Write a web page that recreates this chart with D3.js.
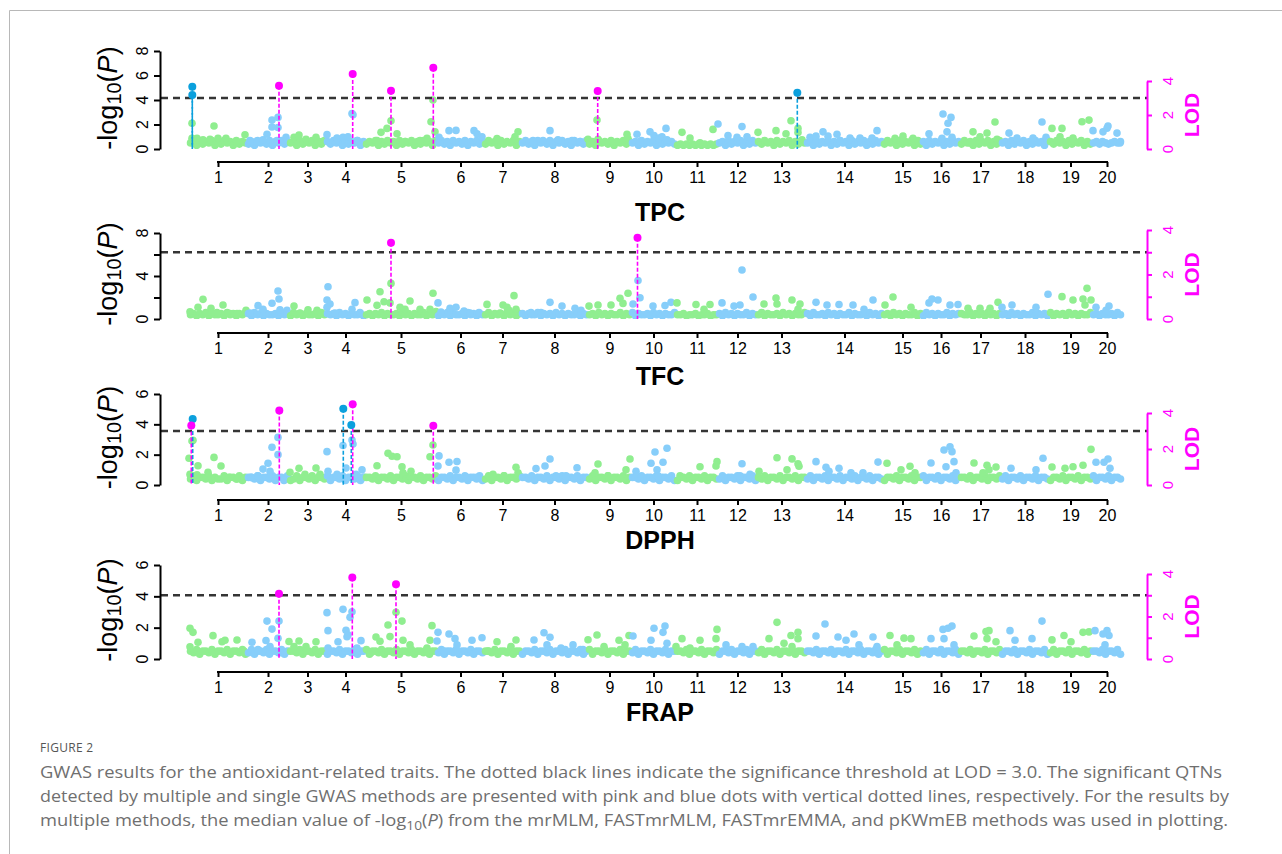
<!DOCTYPE html>
<html><head><meta charset="utf-8">
<script src="https://cdn.jsdelivr.net/npm/d3@7"></script>
<style>body{margin:0;background:#fff}svg{display:block}</style>
</head><body>
<svg id="c" width="1282" height="854"></svg>
<script>
// ---------------- DATA ----------------
const chromosomes = ["1","2","3","4","5","6","7","8","9","10","11","12","13","14","15","16","17","18","19","20"];
const chrLengths = [58,42,37,39,72,47,37,67,43,45,42,39,49,77,39,38,41,48,43,30];
const traits = ["TPC","TFC","DPPH","FRAP"];
const yMaxes = [8,8,6,6];
const yTickValues = [[0,2,4,6,8],[0,2,4,6,8],[0,2,4,6],[0,2,4,6]];
const yTickLabels = [[0,2,4,6,8],[0,4,8],[0,2,4,6],[0,2,4,6]];
const lodTickValues = [[0,2,4],[0,1,2,3,4],[0,2,4],[0,1,2,3,4]];
const lodTickLabels = [0,2,4];
const lodMax = 4;
const lodThreshold = 3.0;

// [chromosome, position, -log10(P)]
const tpcPoints = [[1,3,2.1],[1,3,0.87],[1,8,0.87],[1,14,0.75],[1,21,0.8],[1,25,1.88],[1,29,0.87],[1,37,0.87],[1,48,0.6],[1,56,1.16],
[2,3,0.7],[2,10,0.6],[2,16,0.75],[2,20,1.2],[2,25,2.36],[2,25,1.8],[2,31,2.58],[2,31,1.75],[2,30,0.7],[2,39,0.95],
[3,5,0.95],[3,10,1.14],[3,17,0.8],[3,27,0.95],[3,33,0.6],
[4,1,1.17],[4,11,0.9],[4,17,0.95],[4,22,1.0],[4,26,2.9],[4,27,2.8],[4,31,0.7],
[5,12,0.7],[5,16,1.36],[5,22,1.68],[5,26,2.31],[5,32,1.25],[5,40,0.6],[5,55,0.7],[5,62,0.87],[5,66,2.23],[5,68,4.0],[5,70,1.4],
[6,2,0.95],[6,12,1.5],[6,19,1.52],[6,37,1.5],[6,40,1.25],[6,45,1.0],
[7,13,0.85],[7,16,0.7],[7,31,1.0],[7,34,1.41],
[8,12,0.7],[8,22,0.7],[8,29,1.5],[8,37,0.75],[8,51,0.7],[8,59,0.6],
[9,0,0.8],[9,9,2.36],[9,10,0.8],[9,25,0.55],[9,39,1.2],[9,40,0.85],
[10,6,1.2],[10,9,0.6],[10,19,1.4],[10,23,1.1],[10,28,0.9],[10,31,1.0],[10,35,1.68],[10,36,0.75],
[11,6,1.36],[11,14,0.9],[11,24,0.5],[11,37,1.6],
[12,0,2.04],[12,10,1.1],[12,24,1.83],[12,29,1.0],[12,19,0.95],
[13,1,1.36],[13,19,1.5],[13,29,1.25],[13,34,2.31],[13,41,1.68],[13,41,1.34],[13,45,0.75],
[14,4,0.95],[14,10,1.05],[14,17,1.4],[14,22,1.05],[14,31,1.2],[14,34,0.7],[14,44,0.9],[14,54,0.9],[14,66,0.9],[14,71,1.5],
[15,12,0.87],[15,20,1.05],[15,30,0.87],[15,35,0.7],
[16,7,1.25],[16,21,2.86],[16,29,2.58],[16,26,2.1],[16,25,1.4],[16,20,0.87],[16,30,0.95],
[17,13,1.4],[17,10,0.5],[17,20,1.0],[17,27,1.3],[17,35,2.2],[17,37,0.8],
[18,8,1.3],[18,16,0.9],[18,32,0.9],[18,41,2.2],[18,45,0.95],
[19,3,1.68],[19,13,1.68],[19,11,1.0],[19,24,0.9],[19,33,2.23],[19,40,2.36],
[20,1,1.5],[20,11,1.4],[20,16,1.88],[20,15,1.7],[20,25,1.3],[20,28,0.5]];
const tpcBase = ["5637465736475637465","46375647365746","563746573647","6475637465736","465736475637465736475637","5746375647365746","475637465736","5746375647365746375647","46375647365746","563746573647564","34343434343434","5637465736475","6475637465736475","56374657364756374657364756","4756374657364","6374657364756","47563746573647","5637465736475637","64756374657364","5646545656"];
const tpcMulti = [[2,32,5.17],[4,26.7,6.12],[5,26,4.76],[5,68.3,6.64],[9,9.7,4.73]];
const tpcSingle = [[1,3.3,5.09],[1,3.3,4.4],[13,40.3,4.6]];

const tfcPoints = [[1,1,0.68],[1,9,1.09],[1,14,1.83],[1,22,1.0],[1,28,0.6],[1,34,1.3],[1,41,0.5],[1,48,0.5],[1,57,0.8],
[2,3,0.55],[2,11,1.24],[2,16,0.9],[2,25,1.46],[2,31,2.6],[2,32,1.86],[2,33,0.85],[2,40,0.8],
[3,5,1.2],[3,11,0.55],[3,19,0.85],[3,28,0.8],[3,33,0.5],
[4,2,3.0],[4,1,1.77],[4,4,1.4],[4,1,1.1],[4,9,0.55],[4,26,0.9],[4,29,1.52],[4,34,0.6],
[5,2,1.77],[5,12,1.27],[5,15,2.54],[5,19,1.6],[5,25,1.5],[5,26,3.31],[5,35,1.1],[5,40,0.9],[5,45,1.67],[5,55,0.9],[5,65,0.9],[5,68,2.4],[5,71,0.7],
[6,1,1.5],[6,4,0.65],[6,13,1.0],[6,19,1.1],[6,27,0.75],[6,33,0.55],[6,42,0.6],
[7,3,1.36],[7,16,0.55],[7,19,1.3],[7,23,1.1],[7,25,0.8],[7,30,2.17],[7,32,0.9],
[8,10,0.6],[8,20,0.6],[8,29,1.55],[8,41,1.2],[8,54,1.0],[8,60,0.8],
[9,1,1.2],[9,10,1.3],[9,23,1.3],[9,32,1.92],[9,40,2.4],[9,35,1.45],
[10,2,1.4],[10,7,3.57],[10,9,1.98],[10,22,1.2],[10,34,1.25],[10,40,1.55],
[11,1,1.5],[11,20,1.35],[11,34,1.35],[11,28,0.9],
[12,4,1.5],[12,16,1.2],[12,24,4.56],[12,35,2.05],[12,22,1.3],
[13,7,1.4],[13,19,1.96],[13,20,1.4],[13,35,1.77],[13,43,1.4],[13,41,0.9],
[14,10,1.55],[14,21,1.3],[14,33,1.35],[14,47,1.3],[14,67,1.77],[14,58,0.9],
[15,2,1.3],[15,10,2.05],[15,28,1.1],
[16,7,1.5],[16,10,1.86],[16,16,1.77],[16,28,1.3],[16,36,1.35],
[17,8,1.0],[17,20,1.0],[17,38,1.55],[17,30,1.0],
[18,1,1.1],[18,11,1.3],[18,35,1.1],[18,47,2.3],
[19,13,2.08],[19,24,1.77],[19,34,1.86],[19,38,2.85],[19,42,1.77],[19,36,1.3],
[20,4,1.1],[20,17,1.2],[20,14,0.8]];
const tfcBase = ["4535463544536453546","53645354453645","364535445364","5453645354453","453546354453645354463545","3546354453645354","463545364535","5354463545364535446354","45364535446354","635445364535446","44534453445344","5364535446354","4635445364535446","53644536453544635445364535","4536453544635","3645354463545","54463545364535","4536453544635453","63545364535446","4535445364"];
const tfcMulti = [[5,26,7.1],[10,6.5,7.56]];
const tfcSingle = [];

const dpphPoints = [[1,3,2.9],[1,4,2.95],[1,0,1.76],[1,1,0.7],[1,8,0.67],[1,9,1.27],[1,19,0.84],[1,25,1.82],[1,32,1.25],[1,40,0.5],[1,48,0.4],
[2,4,0.5],[2,11,0.6],[2,16,1.05],[2,21,1.43],[2,25,2.49],[2,23,0.9],[2,31,3.14],[2,31,2.0],[2,37,0.3],
[3,1,0.84],[3,10,1.1],[3,16,0.7],[3,27,1.12],[3,31,0.7],
[4,1,2.2],[4,2,0.9],[4,11,0.7],[4,17,2.6],[4,20,1.12],[4,26,2.97],[4,27,2.7],[4,30,0.7],[4,36,1.0],[4,38,0.5],
[5,12,1.27],[5,23,2.09],[5,27,1.9],[5,32,1.86],[5,37,1.2],[5,38,0.8],[5,46,0.9],[5,65,1.86],[5,68,2.64],[5,72,0.5],
[6,1,1.25],[6,2,1.92],[6,12,1.5],[6,20,1.55],[6,19,0.98],[6,30,0.5],[6,40,0.5],
[7,9,0.7],[7,20,0.6],[7,32,1.17],[7,34,0.8],
[8,15,1.08],[8,24,1.25],[8,29,1.71],[8,35,0.6],[8,45,0.6],[8,56,1.14],
[9,7,0.8],[9,10,1.38],[9,20,0.6],[9,38,1.0],[9,42,1.71],
[10,5,0.9],[10,20,1.43],[10,24,2.18],[10,26,1.0],[10,27,0.6],[10,32,1.5],[10,36,2.42],
[11,4,0.6],[11,24,1.2],[11,40,1.25],[11,41,1.54],
[12,22,0.6],[12,24,1.4],[12,32,0.7],
[13,2,0.9],[13,20,1.8],[13,30,1.0],[13,35,1.72],[13,41,1.4],[13,42,1.24],
[14,10,1.54],[14,20,1.17],[14,23,0.9],[14,33,1.1],[14,45,0.8],[14,57,0.8],[14,72,1.51],
[15,4,1.43],[15,18,1.0],[15,27,1.24],[15,32,0.8],
[16,9,1.45],[16,22,2.31],[16,28,2.52],[16,30,2.2],[16,32,1.54],[16,24,1.2],[16,34,0.8],
[17,14,1.45],[17,23,0.8],[17,27,1.3],[17,29,1.0],[17,36,1.19],
[18,10,1.1],[18,35,1.0],[18,42,1.76],
[19,3,1.19],[19,16,1.1],[19,24,1.2],[19,34,1.3],[19,42,2.35],
[20,4,1.5],[20,12,1.5],[20,16,1.71],[20,18,1.1]];
const dpphBase = ["4635546354463554635","55463554635546","346355463554","6355463554635","554635546355463554635546","3554635546355463","463554635546","5546355463554635546355","46355463554635","554635546355463","35546355463554","4635546355463","5463554635546355","46355463554635546355463554","3554635546355","6355463554635","55463554635546","4635546355463554","35546355463554","6355463554"];
const dpphMulti = [[1,2.3,3.93],[2,32.3,4.92],[4,26.7,5.32],[5,68.3,3.91]];
const dpphSingle = [[1,3.7,4.35],[4,17.3,5.03],[4,25.3,3.96]];

const frapPoints = [[1,1,1.96],[1,4,1.7],[1,1,0.78],[1,9,1.07],[1,24,1.49],[1,33,1.1],[1,36,1.2],[1,48,1.21],[1,55,0.5],
[2,5,1.07],[2,11,0.6],[2,20,2.42],[2,19,1.18],[2,25,1.91],[2,23,0.8],[2,32,2.42],[2,31,1.32],[2,33,0.4],
[3,0,1.12],[3,5,0.8],[3,10,1.15],[3,17,0.8],[3,27,1.1],
[4,1,2.96],[4,2,1.81],[4,2,0.7],[4,12,1.1],[4,17,3.17],[4,20,1.83],[4,21,1.42],[4,22,1.55],[4,24,2.66],[4,26,3.02],[4,35,1.17],[4,31,0.7],
[5,6,0.4],[5,11,1.4],[5,15,1.13],[5,23,2.17],[5,25,1.43],[5,31,2.98],[5,37,2.42],[5,38,1.2],[5,45,0.9],[5,62,0.7],[5,67,2.13],[5,65,1.2],
[6,1,1.7],[6,0,1.15],[6,7,0.5],[6,12,1.6],[6,18,1.3],[6,20,0.9],[6,35,1.2],[6,45,1.36],
[7,4,0.5],[7,13,1.1],[7,27,0.8],[7,32,1.21],
[8,13,1.21],[8,23,1.68],[8,29,1.39],[8,26,0.9],[8,40,0.7],[8,52,0.9],[8,62,0.6],
[9,0,1.23],[9,9,1.53],[9,16,0.8],[9,31,1.2],[9,41,1.5],[9,37,0.9],
[10,2,1.47],[10,20,1.2],[10,23,1.96],[10,34,2.1],[10,32,1.7],[10,36,1.0],
[11,0,0.8],[11,6,1.3],[11,24,1.2],[11,14,0.7],[11,41,1.89],[11,40,1.3],
[12,8,0.9],[12,24,0.8],[12,35,0.8],
[13,12,1.3],[13,20,2.34],[13,27,1.0],[13,34,1.5],[13,41,1.7],[13,41,1.3],[13,35,0.8],
[14,10,1.47],[14,19,2.23],[14,32,1.4],[14,40,1.2],[14,48,1.6],[14,53,0.9],[14,67,1.4],[14,71,0.8],
[15,7,1.5],[15,21,1.33],[15,28,1.3],[15,14,0.9],
[16,9,1.3],[16,21,1.89],[16,26,1.96],[16,30,2.1],[16,22,1.3],[16,32,0.9],
[17,14,1.47],[17,26,1.75],[17,29,1.81],[17,27,1.3],[17,36,1.1],
[18,9,1.81],[18,14,1.2],[18,31,1.3],[18,41,2.42],
[19,3,1.22],[19,15,1.5],[19,22,1.1],[19,34,1.7],[19,40,1.73],
[20,3,1.81],[20,15,1.81],[20,17,1.5],[20,11,1.6],[20,13,0.9]];
const frapBase = ["5463554635546355463","46355463554635","554635546355","3554635546355","635546355463554635546355","4635546355463554","554635546355","3554635546355463554635","63554635546355","463554635546355","55463554635546","3554635546355","4635546355463554","55463554635546355463554635","6355463554635","4635546355463","55463554635546","3554635546355463","46355463554635","5546355463"];
const frapMulti = [[2,32,4.17],[4,26.3,5.21],[5,31,4.77]];
const frapSingle = [];

const captionLabel = "FIGURE 2";
const captionLines = [
  "GWAS results for the antioxidant-related traits. The dotted black lines indicate the significance threshold at LOD = 3.0. The significant QTNs",
  "detected by multiple and single GWAS methods are presented with pink and blue dots with vertical dotted lines, respectively. For the results by"
];

// ---------------- LAYOUT ----------------
const layout = [
  {y0:149, yTop:51,  lodTop:81,  axisY:162, titleY:221},
  {y0:319, yTop:233, lodTop:230, axisY:333, titleY:385},
  {y0:485, yTop:394, lodTop:413, axisY:500, titleY:549},
  {y0:659, yTop:565, lodTop:574, axisY:672, titleY:721}
];
const GREEN="#90EE90", BLUE="#87CEFA", SIGBLUE="#0BA0DD", PINK="#FF00FF";
const FONT="'Liberation Sans', Arial, sans-serif";

const svg = d3.select("#c");
svg.append("path").attr("d","M9.5,854V10.5H1282").attr("fill","none").attr("stroke","#b8b8b8").attr("stroke-width",1);

const offsets = chrLengths.map((d,i)=>d3.sum(chrLengths.slice(0,i)));
const total = d3.sum(chrLengths);
const x = d3.scaleLinear().domain([0,total]).range([189,1122]);
const mids = chrLengths.map((d,i)=>offsets[i]+d/2);
const gx = d => x(offsets[d[0]-1]+d[1]);

const panels = [
  {pts:tpcPoints, base:tpcBase, multi:tpcMulti, single:tpcSingle},
  {pts:tfcPoints, base:tfcBase, multi:tfcMulti, single:tfcSingle},
  {pts:dpphPoints, base:dpphBase, multi:dpphMulti, single:dpphSingle},
  {pts:frapPoints, base:frapBase, multi:frapMulti, single:frapSingle}
];

panels.forEach((p,k)=>{
  const L = layout[k];
  const y = d3.scaleLinear().domain([0,yMaxes[k]]).range([L.y0,L.yTop]);
  const lod = d3.scaleLinear().domain([0,lodMax]).range([L.y0,L.lodTop]);
  const g = svg.append("g");
  const cid = "clip"+k;
  svg.append("clipPath").attr("id",cid).append("rect").attr("x",150).attr("y",L.yTop-20).attr("width",1000).attr("height",L.y0-L.yTop+20);

  const all = [];
  p.base.forEach((s,i)=>{const n=s.length; for(let j=0;j<n;j++) all.push([i+1,(j+0.5)*chrLengths[i]/n,+s[j]/10]);});
  p.pts.forEach(d=>all.push(d));
  all.sort((a,b)=>a[0]-b[0]);
  g.append("g").attr("clip-path",`url(#${cid})`).selectAll("circle").data(all).join("circle")
    .attr("cx",gx).attr("cy",d=>y(d[2])).attr("r",3.8)
    .attr("fill",d=>d[0]%2?GREEN:BLUE);

  // threshold
  g.append("line").attr("x1",161).attr("x2",1147).attr("y1",lod(lodThreshold)).attr("y2",lod(lodThreshold))
    .attr("stroke","#353535").attr("stroke-width",2.4).attr("stroke-dasharray","7,5");

  // significant QTNs
  const sig = p.single.map(d=>({d, c:SIGBLUE})).concat(p.multi.map(d=>({d, c:PINK})));
  g.selectAll("line.sig").data(sig).join("line").attr("class","sig")
    .attr("x1",s=>gx(s.d)).attr("x2",s=>gx(s.d)).attr("y1",s=>y(s.d[2])).attr("y2",y(0))
    .attr("stroke",s=>s.c).attr("stroke-width",1.6).attr("stroke-dasharray","4,2");
  g.selectAll("circle.sig").data(sig).join("circle").attr("class","sig")
    .attr("cx",s=>gx(s.d)).attr("cy",s=>y(s.d[2])).attr("r",4)
    .attr("fill",s=>s.c);

  // left axis
  const ya = d3.axisLeft(y).tickValues(yTickValues[k]).tickSize(6).tickSizeOuter(0).tickFormat("");
  g.append("g").attr("transform","translate(160,0)").call(ya)
    .call(s=>s.selectAll("path,line").attr("stroke","#000").attr("stroke-width",2));
  g.selectAll("text.yl").data(yTickLabels[k]).join("text").attr("class","yl")
    .attr("transform",v=>`translate(142,${y(v)}) rotate(-90)`).attr("text-anchor","middle").attr("dy","0.35em")
    .attr("font-family",FONT).attr("font-size",16).attr("fill","#000").text(v=>v);

  // y label
  const yl = g.append("text").attr("transform",`translate(117,${(L.y0+L.yTop)/2-2}) rotate(-90)`)
    .attr("text-anchor","middle").attr("font-family",FONT).attr("font-size",27).attr("fill","#000");
  yl.append("tspan").text("-log");
  yl.append("tspan").attr("font-size",20).attr("dy",4).text("10");
  yl.append("tspan").attr("dy",-4).text("(");
  yl.append("tspan").attr("font-style","italic").text("P");
  yl.append("tspan").text(")");

  // LOD axis
  const la = d3.axisRight(lod).tickValues(lodTickValues[k]).tickSize(5).tickSizeOuter(0).tickFormat("");
  g.append("g").attr("transform","translate(1147,0)").call(la)
    .call(s=>s.selectAll("path,line").attr("stroke",PINK).attr("stroke-width",2));
  g.selectAll("text.ll").data(lodTickLabels).join("text").attr("class","ll")
    .attr("transform",v=>`translate(1168,${lod(v)}) rotate(-90)`).attr("text-anchor","middle").attr("dy","0.35em")
    .attr("font-family",FONT).attr("font-size",15).attr("fill",PINK).text(v=>v);
  g.append("text").attr("transform",`translate(1199,${(L.y0+L.lodTop)/2}) rotate(-90)`)
    .attr("text-anchor","middle").attr("font-family",FONT).attr("font-size",21).attr("font-weight","bold")
    .attr("fill",PINK).text("LOD");

  // x axis
  const xa = d3.axisBottom(x).tickValues(mids).tickSize(5).tickSizeOuter(0).tickFormat((d,i)=>chromosomes[i]);
  const xg = g.append("g").attr("transform",`translate(0,${L.axisY})`).call(xa);
  xg.select(".domain").remove();
  xg.selectAll("line").attr("stroke","#000").attr("stroke-width",2);
  xg.selectAll("text").attr("y",10).attr("font-family",FONT).attr("font-size",16).attr("fill","#000");
  xg.append("line").attr("x1",x(mids[0])-1).attr("x2",x(mids[19])+1).attr("y1",0).attr("y2",0)
    .attr("stroke","#000").attr("stroke-width",2);

  // title
  g.append("text").attr("x",660).attr("y",L.titleY).attr("text-anchor","middle")
    .attr("font-family",FONT).attr("font-size",25).attr("font-weight","bold").attr("fill","#000").text(traits[k]);
});

// caption
const CF = "'Open Sans', 'Noto Sans', sans-serif";
svg.append("text").attr("x",40).attr("y",752).attr("font-family",CF).attr("font-size",12)
  .attr("fill","#555").attr("letter-spacing",0.3).text(captionLabel);
svg.append("text").attr("x",40).attr("y",778).attr("font-family",CF).attr("font-size",16).attr("fill","#6f6f6f")
  .attr("textLength",1182).attr("lengthAdjust","spacingAndGlyphs").text(captionLines[0]);
svg.append("text").attr("x",40).attr("y",802).attr("font-family",CF).attr("font-size",16).attr("fill","#6f6f6f")
  .attr("textLength",1189).attr("lengthAdjust","spacingAndGlyphs").text(captionLines[1]);
const l3 = svg.append("text").attr("x",40).attr("y",826).attr("font-family",CF).attr("font-size",16).attr("fill","#6f6f6f")
  .attr("textLength",1188).attr("lengthAdjust","spacingAndGlyphs");
l3.append("tspan").text("multiple methods, the median value of -log");
l3.append("tspan").attr("font-size",12).attr("dy",4).text("10");
l3.append("tspan").attr("dy",-4).text("(");
l3.append("tspan").attr("font-style","italic").text("P");
l3.append("tspan").text(") from the mrMLM, FASTmrMLM, FASTmrEMMA, and pKWmEB methods was used in plotting.");
</script>
</body></html>
